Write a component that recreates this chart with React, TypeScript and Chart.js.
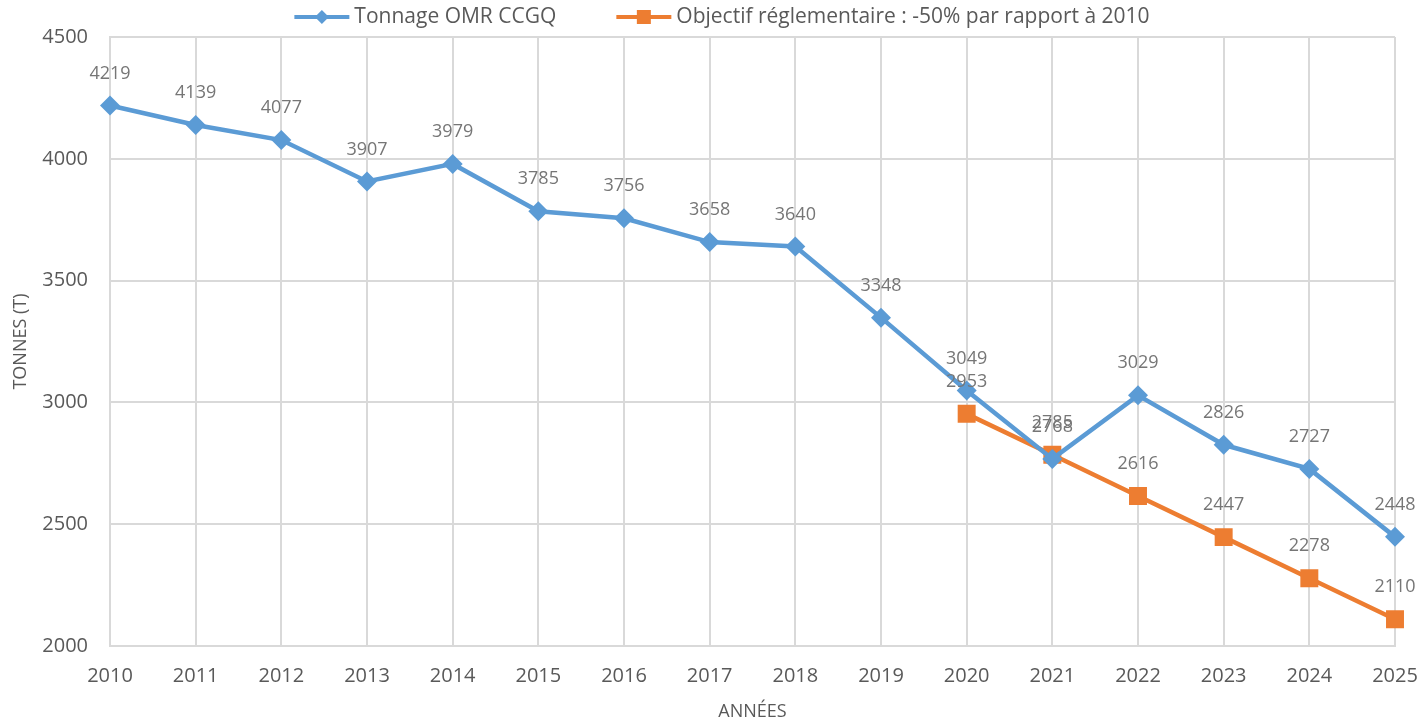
import React, { useEffect, useRef } from 'react';
import { Chart, registerables } from 'chart.js';

Chart.register(...registerables);

const years = ['2010', '2011', '2012', '2013', '2014', '2015', '2016', '2017', '2018', '2019', '2020', '2021', '2022', '2023', '2024', '2025'];
const tonnage = [4219, 4139, 4077, 3907, 3979, 3785, 3756, 3658, 3640, 3348, 3049, 2768, 3029, 2826, 2727, 2448];
const objectif = [null, null, null, null, null, null, null, null, null, null, 2953, 2785, 2616, 2447, 2278, 2110];
const seriesNames = ['Tonnage OMR CCGQ', 'Objectif réglementaire : -50% par rapport à 2010'];
const yMin = 2000;
const yMax = 4500;
const yStep = 500;

const BLUE = '#5B9BD5';
const ORANGE = '#ED7D31';
const FONT = "'Open Sans', sans-serif";
const TEXT = '#595959';

const dataLabels = {
  id: 'dataLabels',
  afterDatasetsDraw(chart: any) {
    const ctx = chart.ctx;
    ctx.save();
    ctx.font = `18px ${FONT}`;
    ctx.fillStyle = '#767676';
    ctx.textAlign = 'center';
    ctx.textBaseline = 'middle';
    chart.data.datasets.forEach((ds: any, i: number) => {
      const meta = chart.getDatasetMeta(i);
      meta.data.forEach((pt: any, j: number) => {
        const v = ds.data[j];
        if (v === null || v === undefined) return;
        ctx.fillText(String(v), pt.x, pt.y - 32);
      });
    });
    ctx.restore();
  },
};

const customLegend = {
  id: 'customLegend',
  afterDraw(chart: any) {
    const ctx = chart.ctx;
    ctx.save();
    ctx.font = `21px ${FONT}`;
    ctx.textBaseline = 'middle';
    ctx.textAlign = 'left';
    const lineLen = 55;
    const gapText = 5;
    const gapItems = 60;
    const y = 17;
    const items = chart.data.datasets.map((ds: any) => ({
      text: ds.label,
      color: ds.borderColor,
      style: ds.pointStyle,
      w: ctx.measureText(ds.label).width,
    }));
    const total = items.reduce((a: number, it: any) => a + lineLen + gapText + it.w, 0) + gapItems * (items.length - 1);
    let x = 722 - total / 2;
    items.forEach((it: any) => {
      ctx.strokeStyle = it.color;
      ctx.lineWidth = 4;
      ctx.beginPath();
      ctx.moveTo(x, y);
      ctx.lineTo(x + lineLen, y);
      ctx.stroke();
      ctx.fillStyle = it.color;
      const cx = x + lineLen / 2;
      if (it.style === 'rectRot') {
        ctx.beginPath();
        ctx.moveTo(cx, y - 7);
        ctx.lineTo(cx + 7, y);
        ctx.lineTo(cx, y + 7);
        ctx.lineTo(cx - 7, y);
        ctx.closePath();
        ctx.fill();
      } else {
        ctx.fillRect(cx - 7, y - 7, 14, 14);
      }
      ctx.fillStyle = TEXT;
      ctx.fillText(it.text, x + lineLen + gapText, y);
      x += lineLen + gapText + it.w + gapItems;
    });
    ctx.restore();
  },
};

export default function App() {
  const ref = useRef<HTMLCanvasElement>(null);
  useEffect(() => {
    document.body.style.margin = '0';
    const chart = new Chart(ref.current!, {
      type: 'line',
      data: {
        labels: years,
        datasets: [
          {
            label: seriesNames[0],
            data: tonnage,
            borderColor: BLUE,
            backgroundColor: BLUE,
            borderWidth: 4.5,
            pointStyle: 'rectRot',
            pointRadius: 10,
            pointBorderWidth: 0,
            pointBackgroundColor: BLUE,
            tension: 0,
          },
          {
            label: seriesNames[1],
            data: objectif,
            borderColor: ORANGE,
            backgroundColor: ORANGE,
            borderWidth: 4.5,
            pointStyle: 'rect',
            pointRadius: 12.7,
            pointBorderWidth: 0,
            pointBackgroundColor: ORANGE,
            tension: 0,
          },
        ],
      },
      options: {
        responsive: false,
        animation: false,
        layout: { padding: { top: 37, right: 0, left: 0, bottom: 0 } },
        plugins: {
          tooltip: { enabled: false },
          legend: { display: false },
        },
        scales: {
          x: {
            offset: false,
            grid: { color: '#d9d9d9', lineWidth: 2, drawTicks: false },
            border: { color: '#d9d9d9', width: 2 },
            ticks: { color: TEXT, font: { family: FONT, size: 20 }, padding: 18, maxRotation: 0, autoSkip: false },
            title: { display: true, text: 'ANNÉES', color: TEXT, font: { family: FONT, size: 18 }, padding: 0 },
            afterFit: (s: any) => {
              s.height = 77;
              s.paddingRight = 24;
            },
          },
          y: {
            min: yMin,
            max: yMax,
            grid: { color: '#d9d9d9', lineWidth: 2, drawTicks: false },
            border: { color: '#d9d9d9', width: 2 },
            ticks: {
              stepSize: yStep,
              color: TEXT,
              font: { family: FONT, size: 20 },
              padding: 22,
              callback: (v: any) => String(v),
            },
            title: { display: true, text: 'TONNES (T)', color: TEXT, font: { family: FONT, size: 18 }, padding: { top: 10, bottom: 0 } },
            afterFit: (s: any) => {
              s.width = 110;
            },
          },
        },
      },
      plugins: [dataLabels, customLegend],
    } as any);
    return () => chart.destroy();
  }, []);
  return (
    <div style={{ position: 'absolute', left: 0, top: 0, width: 1419, height: 723 }}>
      <canvas ref={ref} width={1419} height={723} style={{ display: 'block' }} />
    </div>
  );
}
